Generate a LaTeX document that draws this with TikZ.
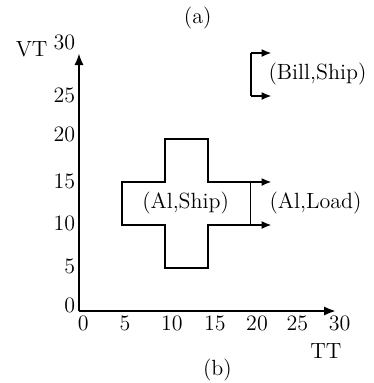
\documentclass[tikz,border=0pt]{standalone}
\usetikzlibrary{arrows.meta}
\begin{document}
\begin{tikzpicture}[x=4.3pt,y=4.3pt,
  lbl/.style={inner sep=0pt,font=\fontsize{11}{13}\selectfont},
  axis/.style={line width=1.4pt,-{Latex[length=6pt,width=4.6pt]}},
  outline/.style={line width=1.1pt,line join=miter},
  thin edge/.style={line width=0.5pt},
  flow/.style={line width=1.1pt,-{Latex[length=5pt,width=4pt]}}]
\useasboundingbox (-9.186,-8.372) rectangle (34.302,36.163);
% axes
\coordinate (O) at (0,0);
\coordinate (Ytip) at (0,30);
\coordinate (Xtip) at (29.9,0);
\draw[axis] (O) -- (Ytip);
\draw[axis] (O) -- (Xtip);
% tick labels
\foreach \v/\p in {0/0.5,5/5.35,10/10.8,15/15.8,20/20.7,25/25.4,30/30.3}
  \node[lbl] (xl\v) at (\p,-1.45) {\v};
\foreach \v/\p in {0/0.6,5/5.2,10/10.2,15/15.1,20/20.5,25/25.1}
  \node[lbl,anchor=east] (yl\v) at (-0.4,\p) {\v};
\node[lbl,anchor=east] (yl30) at (-0.4,31.2) {30};
\node[lbl] (VT) at (-5.5,30.4) {VT};
\node[lbl] (TT) at (28.7,-4.6) {TT};
\node[lbl] (capa) at (13.8,34.1) {(a)};
\node[lbl] (capb) at (16.1,-6.9) {(b)};
% (Al,Ship) region
\coordinate (c1) at (20,10);
\coordinate (c2) at (20,15);
\draw[outline] (c2) -- (15,15) -- (15,20) -- (10,20) -- (10,15) -- (5,15)
  -- (5,10) -- (10,10) -- (10,5) -- (15,5) -- (15,10) -- (c1);
\draw[thin edge] (c1) -- (c2);
\coordinate (a1) at (22.4,15);
\coordinate (a2) at (22.4,10);
\draw[flow] (15,15) -- (a1);
\draw[flow] (15,10) -- (a2);
\node[lbl] (alship) at (12.4,12.6) {(Al,Ship)};
\node[lbl] (alload) at (27.5,12.6) {(Al,Load)};
% (Bill,Ship)
\coordinate (b1) at (20,30);
\coordinate (b2) at (20,25);
\coordinate (bt1) at (22.4,30);
\coordinate (bt2) at (22.4,25);
\draw[line width=1.1pt] (b1) -- (b2);
\draw[flow] (b1) -- (bt1);
\draw[flow] (b2) -- (bt2);
\node[lbl,anchor=west] (billship) at (22.0,27.5) {(Bill,Ship)};
\end{tikzpicture}
\end{document}
